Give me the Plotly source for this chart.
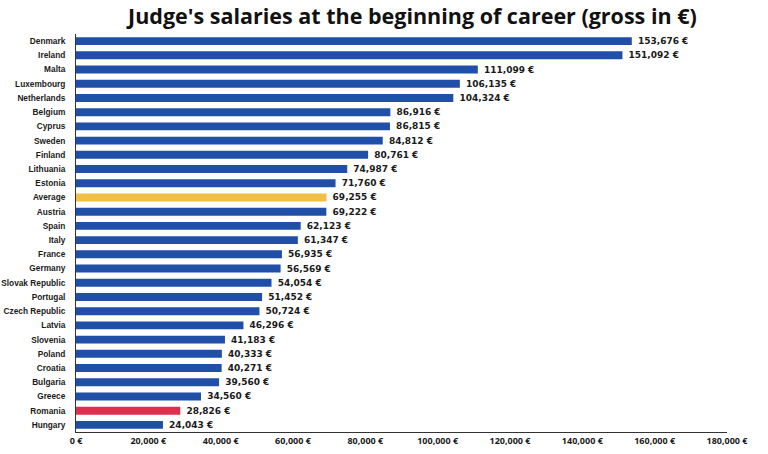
import plotly.graph_objects as go

countries = [
    "Denmark", "Ireland", "Malta", "Luxembourg", "Netherlands", "Belgium",
    "Cyprus", "Sweden", "Finland", "Lithuania", "Estonia", "Average",
    "Austria", "Spain", "Italy", "France", "Germany", "Slovak Republic",
    "Portugal", "Czech Republic", "Latvia", "Slovenia", "Poland", "Croatia",
    "Bulgaria", "Greece", "Romania", "Hungary",
]
salaries = [
    153676, 151092, 111099, 106135, 104324, 86916,
    86815, 84812, 80761, 74987, 71760, 69255,
    69222, 62123, 61347, 56935, 56569, 54054,
    51452, 50724, 46296, 41183, 40333, 40271,
    39560, 34560, 28826, 24043,
]
tick_values = [0, 20000, 40000, 60000, 80000, 100000, 120000, 140000, 160000, 180000]

BLUE = "#1f4fa6"
highlight = {"Average": "#f2bf45", "Romania": "#de2f4c"}
colors = [highlight.get(c, BLUE) for c in countries]
labels = [" {:,} €".format(v) for v in salaries]

fig = go.Figure(go.Bar(
    x=salaries,
    y=countries,
    orientation="h",
    marker=dict(color=colors, line=dict(width=0)),
    text=labels,
    textposition="outside",
    constraintext="none",
    cliponaxis=False,
    textfont=dict(family="DejaVu Sans", size=9, color="#1a1a1a", weight=700),
    hoverinfo="skip",
))

fig.update_layout(
    width=768,
    height=454,
    paper_bgcolor="white",
    plot_bgcolor="white",
    margin=dict(l=76, r=41, t=34, b=22, autoexpand=False),
    bargap=0.44,
    showlegend=False,
    title=dict(
        text="Judge's salaries at the beginning of career (gross in €)",
        x=0.537,
        xanchor="center",
        y=1 - 16 / 454,
        yanchor="middle",
        font=dict(family="Open Sans", size=21.5, color="#111111", weight=700),
    ),
    xaxis=dict(
        range=[0, 180000],
        tickvals=tick_values,
        ticktext=["{:,} €".format(v) for v in tick_values],
        showgrid=False,
        zeroline=False,
        showline=True,
        linecolor="#333333",
        linewidth=1,
        ticks="",
        automargin=False,
        tickfont=dict(family="Open Sans", size=9, color="#1a1a1a", weight=700),
    ),
    yaxis=dict(
        autorange="reversed",
        showgrid=False,
        showline=True,
        linecolor="#333333",
        linewidth=1,
        ticks="",
        automargin=False,
        ticklabelstandoff=8,
        tickfont=dict(family="Liberation Sans", size=8.3, color="#1a1a1a", weight=700),
    ),
)

# drop the default page margin so the figure sits at the window's corner
fig.write_html(
    "out.html",
    config={"displayModeBar": False},
    post_script="document.body.style.margin = '0';",
)
